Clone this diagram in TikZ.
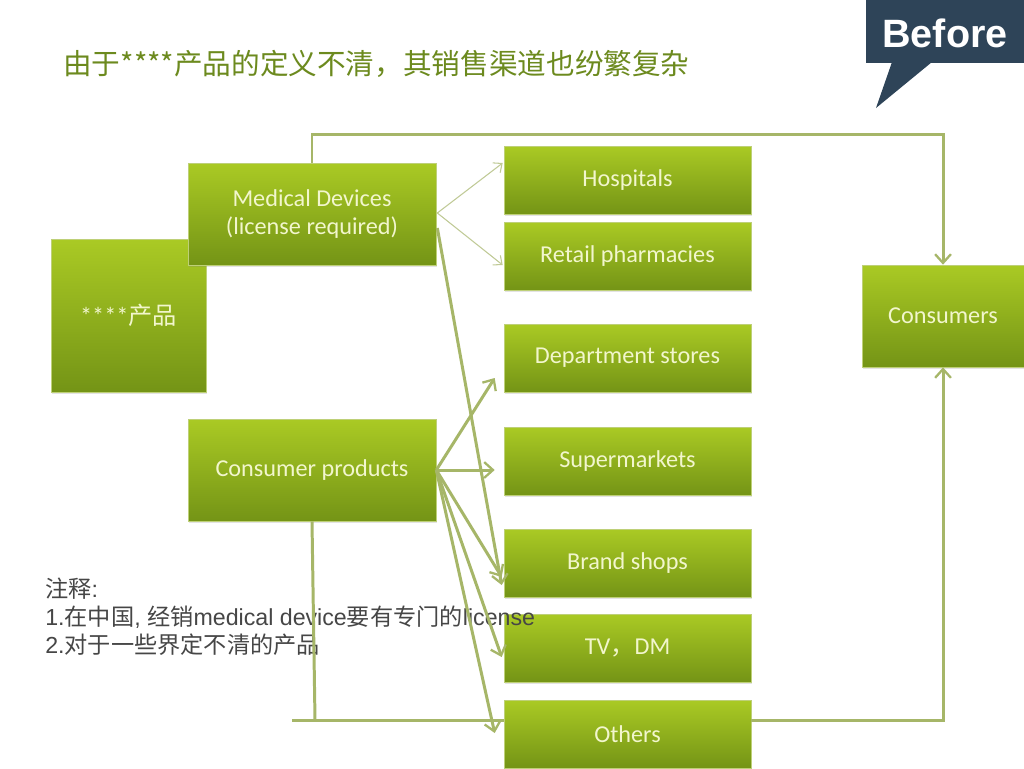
\documentclass[tikz,border=0pt]{standalone}
\usepackage{fontspec}
\setmainfont{Liberation Sans}
\newfontfamily\cjk{Noto Sans CJK SC}
\newfontfamily\boxfont{Carlito}
\usetikzlibrary{arrows.meta,calc,shadows}
\definecolor{boxtop}{RGB}{170,202,36}
\definecolor{boxbot}{RGB}{116,148,22}
\definecolor{boxedge}{RGB}{190,208,120}
\definecolor{boxtxt}{RGB}{242,246,205}
\definecolor{linec}{RGB}{166,182,104}
\definecolor{thinc}{RGB}{192,202,150}
\definecolor{titlec}{RGB}{108,138,30}
\definecolor{badge}{RGB}{46,68,88}
\definecolor{notec}{RGB}{70,70,70}
\begin{document}
\begin{tikzpicture}[x=0.02cm,y=-0.02cm,
  gbox/.style={rectangle, top color=boxtop, bottom color=boxbot, draw=boxedge, line width=0.4pt,
    text=boxtxt, font=\boxfont\fontsize{13.8}{15.5}\selectfont, align=center, inner sep=0pt,
    drop shadow={shadow xshift=0.8pt, shadow yshift=-1.2pt, opacity=0.22}},
  chan/.style={gbox, minimum width=4.94cm, minimum height=1.36cm},
  src/.style={gbox, minimum width=4.96cm, minimum height=2.04cm},
  flow/.style={draw=linec, line width=1.7pt, -{Straight Barb[length=5pt,width=9pt,line width=1.3pt]}},
  plain/.style={draw=linec, line width=1.7pt},
  thinflow/.style={draw=thinc, line width=0.6pt, -{Straight Barb[length=4pt,width=7pt,line width=0.6pt]}}
]
\useasboundingbox (0,0) rectangle (1024,768);
\fill[white] (0,0) rectangle (1024,768);

% title
\node[anchor=west, inner sep=0pt, text=titlec, font=\cjk\fontsize{16.3}{19}\selectfont] (title) at (63,64)
  {由于****产品的定义不清，其销售渠道也纷繁复杂};

% badge
\fill[badge] (866,0) rectangle (1024,63);
\fill[badge] (892,62) -- (932,62) -- (876,108) -- cycle;
\node[text=white, font=\bfseries\fontsize{22.5}{26}\selectfont, inner sep=0pt] (before) at (945,33) {Before};

% boxes
\node[gbox, minimum width=3.1cm, minimum height=3.06cm] (prod) at (128.5,315.5) {****{\cjk 产品}};
\node[src] (med) at (312,214) {Medical Devices\\(license required)};
\node[src] (cons) at (312,470) {Consumer products};
\node[chan] (hosp) at (627.5,180) {Hospitals};
\node[chan] (retail) at (627.5,256) {Retail pharmacies};
\node[chan] (dept) at (627.5,358) {Department stores};
\node[chan] (super) at (627.5,461) {Supermarkets};
\node[chan] (brand) at (627.5,563) {Brand shops};
\node[chan] (tv) at (627.5,648) {TV{\cjk ，}DM};
\node[chan] (others) at (627.5,734) {Others};
\node[gbox, minimum width=3.24cm, minimum height=2.04cm] (consumers) at (943,316) {Consumers};

% notes
\node[anchor=north west, inner sep=0pt, text=notec, align=left, font=\fontsize{13.2}{15.9}\selectfont] (notes) at (45,578)
  {{\cjk 注释}:\\
   1.{\cjk 在中国}, {\cjk 经销}medical device{\cjk 要有专门的}license\\
   2.{\cjk 对于一些界定不清的产品}};

% top route
\draw[flow] (med.north) -- ++(0,-28) -| (consumers.north);

% thin arrows from medical devices
\draw[thinflow] ($(med.east)+(1,-1)$) -- ($(hosp.west)+(-1,-17)$);
\draw[thinflow] ($(med.east)+(1,-1)$) -- ($(retail.west)+(-1,9)$);
\draw[flow] ($(med.east)+(1,14)$) -- ($(brand.west)+(-2,22)$);

% consumer products fan
\draw[flow] (cons.east) -- ($(dept.west)+(-9,20)$);
\draw[flow] (cons.east) -- ($(super.west)+(-9,9)$);
\draw[flow] (cons.east) -- ($(brand.west)+(-2,14)$);
\draw[flow] (cons.east) -- ($(tv.west)+(-2,9)$);
\draw[flow] (cons.east) -- ($(others.west)+(-9,-1)$);

% bottom route
\coordinate (hb) at (292,720);
\draw[plain] (cons.south) -- ($(cons.south |- hb)+(3,0)$);
\draw[plain] (hb) -- (others.west |- hb);
\draw[flow] (others.east |- hb) -| (consumers.south);
\end{tikzpicture}
\end{document}
